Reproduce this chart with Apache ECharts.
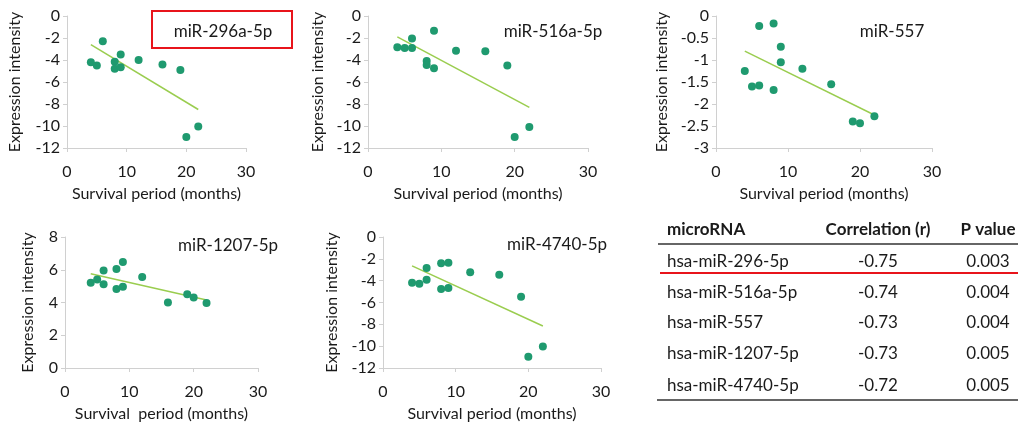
<!DOCTYPE html>
<html>
<head>
<meta charset="utf-8">
<script src="https://cdn.jsdelivr.net/npm/echarts@6/dist/echarts.min.js"></script>
<style>
  html, body { margin: 0; padding: 0; background: #fff; }
  #main { width: 1018px; height: 426px; }
</style>
</head>
<body>
<div id="main"></div>
<script>
var myChart = echarts.init(document.getElementById('main'));

// survival months, same for every microRNA
var months = [4, 5, 6, 6, 8, 8, 9, 9, 12, 16, 19, 20, 22];

// null = no dot visible for that sample
var mir296 = [-4.2, -4.5, -2.3, null, -4.15, -4.8, -3.5, -4.65, -4.0, -4.4, -4.9, -11.0, -10.05];
var mir516 = [-2.85, -2.9, -2.05, -2.9, -4.1, -4.45, -1.35, -4.75, -3.15, -3.2, -4.5, -11.0, -10.1];
var mir557 = [-1.25, -1.6, -0.23, -1.58, -0.17, -1.68, -0.7, -1.05, -1.2, -1.55, -2.4, -2.44, -2.28];
var mir1207 = [5.2, 5.4, 5.95, 5.12, 6.04, 4.82, 6.48, 4.96, 5.55, 4.0, 4.5, 4.3, 3.97];
var mir4740 = [-4.2, -4.28, -2.83, -3.92, -2.4, -4.77, -2.37, -4.68, -3.22, -3.46, -5.47, -10.97, -10.03];

// trend line end points (x = 4 and x = 22)
var trendX = [4, 22];
var trend296 = [-2.6, -8.5];
var trend516 = [-1.9, -8.3];
var trend557 = [-0.8, -2.25];
var trend1207 = [5.75, 4.15];
var trend4740 = [-2.65, -8.15];

var labels = ['miR-296a-5p', 'miR-516a-5p', 'miR-557', 'miR-1207-5p', 'miR-4740-5p'];

// table
var tableHead = ['microRNA', 'Correlation (r)', 'P value'];
var tableNames = ['hsa-miR-296-5p', 'hsa-miR-516a-5p', 'hsa-miR-557', 'hsa-miR-1207-5p', 'hsa-miR-4740-5p'];
var tableR = ['-0.75', '-0.74', '-0.73', '-0.73', '-0.72'];
var tableP = ['0.003', '0.004', '0.004', '0.005', '0.005'];

var FONT = 'Lato';
var dotColor = '#1f9a6f';
var lineColor = '#9acd4f';
var axisColor = '#d0d0d0';
var textColor = '#1a1a1a';

var panels = [
  { y: mir296, t: trend296, min: -12, max: 0, step: 2, grid: { left: 67, width: 179, top: 16, height: 132 }, yGap: 44, xName: 'Survival period (months)' },
  { y: mir516, t: trend516, min: -12, max: 0, step: 2, grid: { left: 368, width: 220, top: 16, height: 132 }, yGap: 42, xName: 'Survival period (months)' },
  { y: mir557, t: trend557, min: -3, max: 0, step: 0.5, grid: { left: 716, width: 216, top: 16, height: 132 }, yGap: 46, xName: 'Survival period (months)' },
  { y: mir1207, t: trend1207, min: 0, max: 8, step: 2, grid: { left: 65, width: 193, top: 237, height: 131 }, yGap: 29, xName: 'Survival  period (months)' },
  { y: mir4740, t: trend4740, min: -12, max: 0, step: 2, grid: { left: 383, width: 218, top: 237, height: 131 }, yGap: 43, xName: 'Survival period (months)' }
];

var grids = [], xAxes = [], yAxes = [], series = [];
panels.forEach(function (p, i) {
  grids.push(p.grid);
  xAxes.push({
    type: 'value', gridIndex: i, min: 0, max: 30, interval: 10,
    name: p.xName, nameLocation: 'middle', nameGap: 38,
    nameTextStyle: { fontFamily: FONT, fontSize: 16, color: textColor },
    axisLine: { onZero: false, lineStyle: { color: axisColor } },
    axisTick: { show: true, length: 4, lineStyle: { color: axisColor } },
    axisLabel: { fontFamily: FONT, fontSize: 16, color: textColor, margin: 16 },
    splitLine: { show: false }
  });
  yAxes.push({
    type: 'value', gridIndex: i, min: p.min, max: p.max, interval: p.step,
    name: 'Expression intensity', nameLocation: 'middle', nameGap: p.yGap,
    nameTextStyle: { fontFamily: FONT, fontSize: 16, color: textColor },
    axisLine: { show: true, lineStyle: { color: axisColor } },
    axisTick: { show: true, length: 4, lineStyle: { color: axisColor } },
    axisLabel: { fontFamily: FONT, fontSize: 16, color: textColor, margin: 7 },
    splitLine: { show: false }
  });
  series.push({
    type: 'line', xAxisIndex: i, yAxisIndex: i,
    data: trendX.map(function (x, k) { return [x, p.t[k]]; }),
    symbol: 'none', lineStyle: { color: lineColor, width: 1.5 }, silent: true, z: 2
  });
  series.push({
    type: 'scatter', xAxisIndex: i, yAxisIndex: i,
    data: months.map(function (x, k) { return p.y[k] == null ? [x, '-'] : [x, p.y[k]]; }),
    symbolSize: 8, itemStyle: { color: dotColor, opacity: 1 }, z: 3
  });
});

// panel labels
var labelPos = [[223, 32], [553, 32], [892, 32], [228, 246], [557, 245]];
var graphic = labels.map(function (txt, i) {
  return {
    type: 'text', x: labelPos[i][0], y: labelPos[i][1],
    style: { text: txt, fontFamily: FONT, fontSize: 17, fill: textColor, align: 'center', verticalAlign: 'middle' }
  };
});
// red box around first label
graphic.push({
  type: 'rect', shape: { x: 152, y: 11, width: 140, height: 37 },
  style: { fill: 'none', stroke: '#e8141b', lineWidth: 2 }
});

// table text
var colX = [667, 878, 988];
var colAlign = ['left', 'center', 'center'];
tableHead.forEach(function (h, c) {
  graphic.push({
    type: 'text', x: colX[c], y: 230,
    style: { text: h, fontFamily: FONT, fontSize: 17, fontWeight: 'bold', fill: textColor, align: colAlign[c], verticalAlign: 'middle' }
  });
});
var rowY = [262, 293, 323, 354, 386];
tableNames.forEach(function (n, r) {
  [n, tableR[r], tableP[r]].forEach(function (v, c) {
    graphic.push({
      type: 'text', x: colX[c], y: rowY[r],
      style: { text: v, fontFamily: FONT, fontSize: 17, fill: textColor, align: colAlign[c], verticalAlign: 'middle' }
    });
  });
});
graphic.push({ type: 'line', shape: { x1: 658, y1: 244, x2: 1018, y2: 244 }, style: { stroke: '#333', lineWidth: 1.5 } });
graphic.push({ type: 'line', shape: { x1: 660, y1: 273, x2: 1018, y2: 273 }, style: { stroke: '#e8141b', lineWidth: 2 } });
graphic.push({ type: 'line', shape: { x1: 657, y1: 400, x2: 1018, y2: 400 }, style: { stroke: '#333', lineWidth: 1.5 } });

var option = {
  animation: false,
  grid: grids,
  xAxis: xAxes,
  yAxis: yAxes,
  series: series,
  graphic: graphic
};

myChart.setOption(option);
</script>
</body>
</html>
